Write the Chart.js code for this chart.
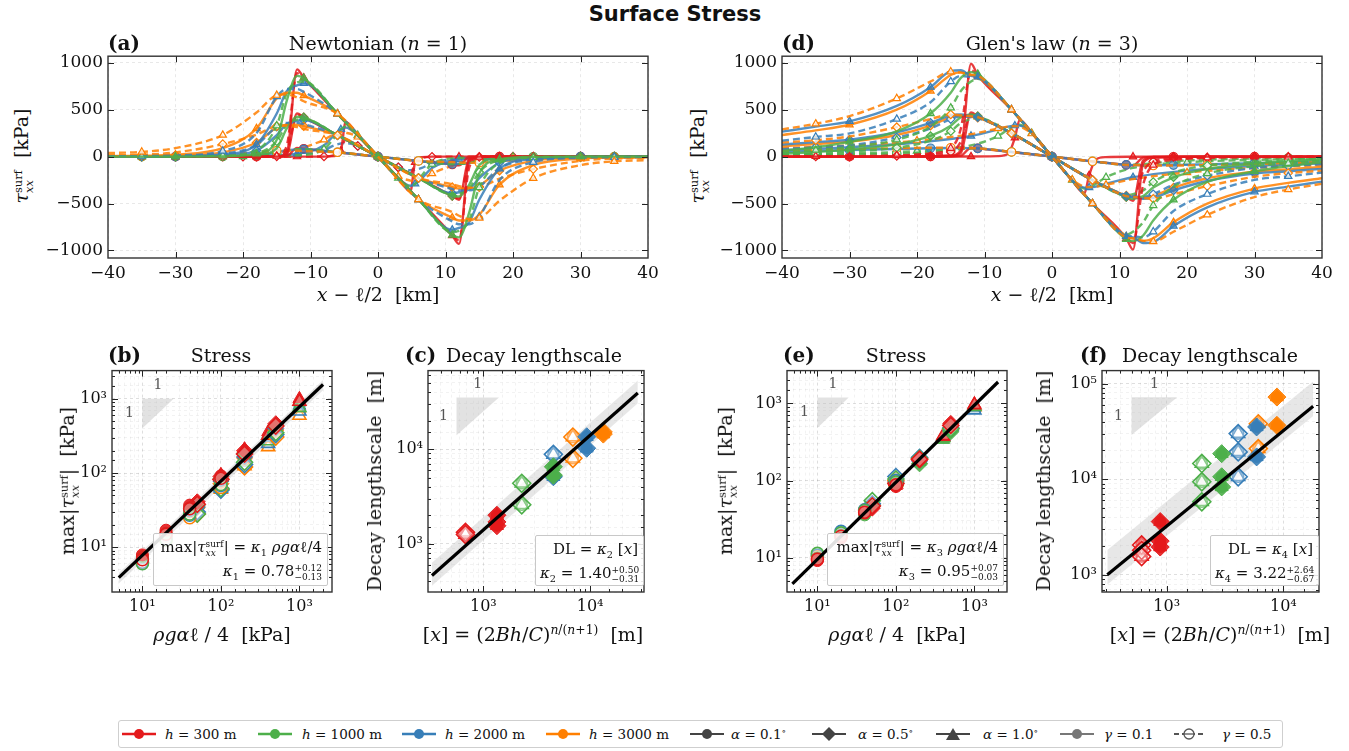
<!DOCTYPE html>
<html>
<head>
<meta charset="utf-8">
<script src="https://cdn.jsdelivr.net/npm/chart.js@4.4.1/dist/chart.umd.min.js"></script>
<style>
  body { margin:0; background:#fff; }
  #fig { position:relative; width:1349px; height:751px; overflow:hidden; font-family:'DejaVu Serif',serif; color:#111; }
  canvas { position:absolute; }
  .t { position:absolute; white-space:nowrap; transform:translate(-50%,-50%); font-size:19px; z-index:5; }
  .tl { position:absolute; white-space:nowrap; transform:translate(0,-50%); font-size:20px; font-weight:bold; z-index:5; }
  .ty { position:absolute; white-space:nowrap; transform:translate(-50%,-50%) rotate(-90deg); font-size:19px; z-index:5; }
  .ss { display:inline-block; vertical-align:-0.4em; font-size:0.6em; line-height:0.95; text-align:left; }
  .ss span { display:block; }
  sub, sup { line-height:0; font-size:0.65em; }
  .box { position:absolute; border:1.5px solid #c8c8c8; background:rgba(255,255,255,0.88); border-radius:2px; text-align:right; font-size:15px; padding:1px 5px 0 4px; box-sizing:border-box; z-index:5; line-height:24px; white-space:nowrap; }
  #legend { position:absolute; left:118px; top:720px; width:1165px; height:28px; border:1px solid #cfcfcf; border-radius:3px; box-sizing:border-box; }
  .lh { position:absolute; top:727px; }
  .lt { position:absolute; top:734px; transform:translate(0,-50%); font-size:13.5px; white-space:nowrap; }
</style>
</head>
<body>
<div id="fig">
  <canvas id="cA"></canvas>
  <canvas id="cD"></canvas>
  <canvas id="cB"></canvas>
  <canvas id="cC"></canvas>
  <canvas id="cE"></canvas>
  <canvas id="cF"></canvas>

  <div class="t" style="left:675px;top:14px;font-family:'DejaVu Sans',sans-serif;font-weight:bold;font-size:21px">Surface Stress</div>

  <div class="tl" style="left:108px;top:43px">(a)</div>
  <div class="t" style="left:378px;top:43px">Newtonian (<i>n</i> = 1)</div>
  <div class="tl" style="left:782px;top:43px">(d)</div>
  <div class="t" style="left:1052px;top:43px">Glen's law (<i>n</i> = 3)</div>

  <div class="ty" style="left:22px;top:156px"><i>τ</i><span class="ss"><span>surf</span><span><i>xx</i></span></span>&nbsp; [kPa]</div>
  <div class="ty" style="left:698px;top:156px"><i>τ</i><span class="ss"><span>surf</span><span><i>xx</i></span></span>&nbsp; [kPa]</div>
  <div class="t" style="left:378px;top:294px"><i>x</i> − ℓ/2 &nbsp;[km]</div>
  <div class="t" style="left:1052px;top:294px"><i>x</i> − ℓ/2 &nbsp;[km]</div>

  <div class="tl" style="left:108px;top:355px">(b)</div>
  <div class="t" style="left:221px;top:355px">Stress</div>
  <div class="tl" style="left:405px;top:355px">(c)</div>
  <div class="t" style="left:534px;top:355px">Decay lengthscale</div>
  <div class="tl" style="left:783px;top:355px">(e)</div>
  <div class="t" style="left:896px;top:355px">Stress</div>
  <div class="tl" style="left:1080px;top:355px">(f)</div>
  <div class="t" style="left:1210px;top:355px">Decay lengthscale</div>

  <div class="ty" style="left:68px;top:481px">max|<i>τ</i><span class="ss"><span>surf</span><span><i>xx</i></span></span>| &nbsp;[kPa]</div>
  <div class="ty" style="left:374px;top:481px">Decay lengthscale &nbsp;[m]</div>
  <div class="ty" style="left:726px;top:481px">max|<i>τ</i><span class="ss"><span>surf</span><span><i>xx</i></span></span>| &nbsp;[kPa]</div>
  <div class="ty" style="left:1043px;top:481px">Decay lengthscale &nbsp;[m]</div>

  <div class="t" style="left:222px;top:634px"><i>ρgα</i>ℓ / 4 &nbsp;[kPa]</div>
  <div class="t" style="left:533px;top:634px">[<i>x</i>] = (2<i>Bh</i>/<i>C</i>)<sup><i>n</i>/(<i>n</i>+1)</sup> &nbsp;[m]</div>
  <div class="t" style="left:897px;top:634px"><i>ρgα</i>ℓ / 4 &nbsp;[kPa]</div>
  <div class="t" style="left:1220px;top:634px">[<i>x</i>] = (2<i>Bh</i>/<i>C</i>)<sup><i>n</i>/(<i>n</i>+1)</sup> &nbsp;[m]</div>

  <div class="box" style="left:153px;top:533px;width:175px;height:53px">max|<i>τ</i><span class="ss"><span>surf</span><span><i>xx</i></span></span>| = <i>κ</i><sub>1</sub> <i>ρgα</i>ℓ/4<br><i>κ</i><sub>1</sub> = 0.78<span class="ss"><span>+0.12</span><span>−0.13</span></span></div>
  <div class="box" style="left:535px;top:535px;width:109px;height:51px">DL = <i>κ</i><sub>2</sub> [<i>x</i>]<br><i>κ</i><sub>2</sub> = 1.40<span class="ss"><span>+0.50</span><span>−0.31</span></span></div>
  <div class="box" style="left:827px;top:533px;width:177px;height:53px">max|<i>τ</i><span class="ss"><span>surf</span><span><i>xx</i></span></span>| = <i>κ</i><sub>3</sub> <i>ρgα</i>ℓ/4<br><i>κ</i><sub>3</sub> = 0.95<span class="ss"><span>+0.07</span><span>−0.03</span></span></div>
  <div class="box" style="left:1210px;top:535px;width:109px;height:51px">DL = <i>κ</i><sub>4</sub> [<i>x</i>]<br><i>κ</i><sub>4</sub> = 3.22<span class="ss"><span>+2.64</span><span>−0.67</span></span></div>

  <div id="legend"></div>
  <svg class="lh" style="left:122px" width="34" height="14"><line x1="0" y1="7" x2="34" y2="7" stroke="#e41a1c" stroke-width="2.5"/><circle cx="17" cy="7" r="5" fill="#e41a1c"/></svg>
  <div class="lt" style="left:165px"><i>h</i> = 300 m</div>
  <svg class="lh" style="left:258px" width="34" height="14"><line x1="0" y1="7" x2="34" y2="7" stroke="#4daf4a" stroke-width="2.5"/><circle cx="17" cy="7" r="5" fill="#4daf4a"/></svg>
  <div class="lt" style="left:302px"><i>h</i> = 1000 m</div>
  <svg class="lh" style="left:402px" width="34" height="14"><line x1="0" y1="7" x2="34" y2="7" stroke="#377eb8" stroke-width="2.5"/><circle cx="17" cy="7" r="5" fill="#377eb8"/></svg>
  <div class="lt" style="left:445px"><i>h</i> = 2000 m</div>
  <svg class="lh" style="left:546px" width="34" height="14"><line x1="0" y1="7" x2="34" y2="7" stroke="#ff7f00" stroke-width="2.5"/><circle cx="17" cy="7" r="5" fill="#ff7f00"/></svg>
  <div class="lt" style="left:589px"><i>h</i> = 3000 m</div>
  <svg class="lh" style="left:690px" width="34" height="14"><line x1="0" y1="7" x2="34" y2="7" stroke="#444" stroke-width="2"/><circle cx="17" cy="7" r="5" fill="#444"/></svg>
  <div class="lt" style="left:731px"><i>α</i> = 0.1<sup>∘</sup></div>
  <svg class="lh" style="left:812px" width="34" height="14"><line x1="0" y1="7" x2="34" y2="7" stroke="#444" stroke-width="2"/><polygon points="17,0 24,7 17,14 10,7" fill="#444"/></svg>
  <div class="lt" style="left:858px"><i>α</i> = 0.5<sup>∘</sup></div>
  <svg class="lh" style="left:936px" width="34" height="14"><line x1="0" y1="7" x2="34" y2="7" stroke="#444" stroke-width="2"/><polygon points="17,1 24,13 10,13" fill="#444"/></svg>
  <div class="lt" style="left:983px"><i>α</i> = 1.0<sup>∘</sup></div>
  <svg class="lh" style="left:1060px" width="34" height="14"><line x1="0" y1="7" x2="34" y2="7" stroke="#777" stroke-width="2"/><circle cx="17" cy="7" r="5" fill="#777"/></svg>
  <div class="lt" style="left:1104px"><i>γ</i> = 0.1</div>
  <svg class="lh" style="left:1174px" width="30" height="14"><line x1="0" y1="7" x2="30" y2="7" stroke="#555" stroke-width="1.8" stroke-dasharray="5,3"/><circle cx="15" cy="7" r="5" fill="#fff" stroke="#555" stroke-width="1.3"/><line x1="10" y1="7" x2="20" y2="7" stroke="#555" stroke-width="1.3"/></svg>
  <div class="lt" style="left:1222px"><i>γ</i> = 0.5</div>
</div>

<script>
// ---- top panels: x grids (km) and tick values ----
const xGridWide = [-40,-35,-30,-23,-18,-15,-13.5,-12,-11,-6,0,6,11,12,13.5,15,18,23,30,35,40];
const xGridShort = [-40,-30,-20,-12,-8,-6.5,-5.5,-4.8,-3,0,3,4.8,5.5,6.5,8,12,20,30,40];
const topXTicks = [-40,-30,-20,-10,0,10,20,30,40];
const topYTicks = [-1000,-500,0,500,1000];

// Newtonian, alpha = 1.0 deg (kPa)
const newt_a1_red_s = [0,0,0,0,0,0,40,930,840,456,0,-456,-840,-930,-40,0,0,0,0,0,0];
const newt_a1_red_d = [0,0,0,0,0,5,120,890,836,456,0,-456,-836,-890,-120,-5,0,0,0,0,0];
const newt_a1_grn_s = [0,0,0,3,30,180,600,860,836,456,0,-456,-836,-860,-600,-180,-30,-3,0,0,0];
const newt_a1_grn_d = [0,0,2,10,70,330,680,790,800,456,0,-456,-800,-790,-680,-330,-70,-10,-2,0,0];
const newt_a1_blu_s = [0,1,4,25,130,460,700,760,780,456,0,-456,-780,-760,-700,-460,-130,-25,-4,-1,0];
const newt_a1_blu_d = [3,6,12,60,250,640,720,720,690,456,0,-456,-690,-720,-720,-640,-250,-60,-12,-6,-3];
const newt_a1_org_s = [5,9,20,90,300,620,680,680,650,456,0,-456,-650,-680,-680,-620,-300,-90,-20,-9,-5];
const newt_a1_org_d = [38,50,91,230,470,655,665,630,590,456,0,-456,-590,-630,-665,-655,-470,-230,-91,-50,-38];
// Newtonian, alpha = 0.5 deg
const newt_a5_red_s = [0,0,0,0,0,0,20,460,420,228,0,-228,-420,-460,-20,0,0,0,0,0,0];
const newt_a5_red_d = [0,0,0,0,0,3,60,445,418,228,0,-228,-418,-445,-60,-3,0,0,0,0,0];
const newt_a5_grn_s = [0,0,0,2,15,90,300,425,418,228,0,-228,-418,-425,-300,-90,-15,-2,0,0,0];
const newt_a5_grn_d = [0,0,1,5,35,165,340,395,400,228,0,-228,-400,-395,-340,-165,-35,-5,-1,0,0];
const newt_a5_blu_s = [0,0,2,12,65,230,350,380,390,228,0,-228,-390,-380,-350,-230,-65,-12,-2,0,0];
const newt_a5_blu_d = [2,3,6,30,125,320,360,360,345,228,0,-228,-345,-360,-360,-320,-125,-30,-6,-3,-2];
const newt_a5_org_s = [3,5,10,45,150,310,340,340,325,228,0,-228,-325,-340,-340,-310,-150,-45,-10,-5,-3];
const newt_a5_org_d = [14,20,45,133,235,325,330,315,295,228,0,-228,-295,-315,-330,-325,-235,-133,-45,-20,-14];
// Newtonian, alpha = 0.1 deg
const newt_a01_red_s = [0,0,0,0,0,0,4,93,84,46,0,-46,-84,-93,-4,0,0,0,0,0,0];
const newt_a01_grn_d = [0,0,0,1,7,33,68,79,80,46,0,-46,-80,-79,-68,-33,-7,-1,0,0,0];
const newt_a01_blu_s = [0,0,0,2,13,46,70,76,78,46,0,-46,-78,-76,-70,-46,-13,-2,0,0,0];
const newt_a01_org_d = [3,4,9,27,47,65,66,63,59,46,0,-46,-59,-63,-66,-65,-47,-27,-9,-4,-3];
// Newtonian, shorter lake
const newt_s1_red_s = [0,0,0,0,0,5,60,370,228,0,-228,-370,-60,-5,0,0,0,0,0];
const newt_s1_grn_d = [0,0,2,15,80,200,290,320,228,0,-228,-320,-290,-200,-80,-15,-2,0,0];
const newt_s1_blu_s = [0,1,5,30,120,230,290,310,228,0,-228,-310,-290,-230,-120,-30,-5,-1,0];
const newt_s1_org_d = [4,10,25,80,180,240,260,255,210,0,-210,-255,-260,-240,-180,-80,-25,-10,-4];
const newt_s5_red_d = [0,0,0,0,2,15,80,180,114,0,-114,-180,-80,-15,-2,0,0,0,0];
const newt_s5_blu_d = [0,1,4,20,70,120,140,145,114,0,-114,-145,-140,-120,-70,-20,-4,-1,0];

// Glen's law, alpha = 1.0 deg
const glen_a1_red_s = [0,0,0,0,3,12,70,990,870,500,0,-500,-870,-990,-70,-12,-3,0,0,0,0];
const glen_a1_red_d = [2,3,5,12,35,90,300,920,860,500,0,-500,-860,-920,-300,-90,-35,-12,-5,-3,-2];
const glen_a1_grn_s = [60,100,157,270,460,680,840,900,880,500,0,-500,-880,-900,-840,-680,-460,-270,-157,-100,-60];
const glen_a1_grn_d = [40,70,102,180,320,520,700,800,830,500,0,-500,-830,-800,-700,-520,-320,-180,-102,-70,-40];
const glen_a1_blu_s = [266,320,376,540,740,910,920,860,850,500,0,-500,-850,-860,-920,-910,-740,-540,-376,-320,-266];
const glen_a1_blu_d = [170,210,248,400,580,800,860,850,840,500,0,-500,-840,-850,-860,-800,-580,-400,-248,-210,-170];
const glen_a1_org_s = [230,280,340,500,700,870,900,870,850,500,0,-500,-850,-870,-900,-870,-700,-500,-340,-280,-230];
const glen_a1_org_d = [290,350,431,620,800,905,895,870,860,500,0,-500,-860,-870,-895,-905,-800,-620,-431,-350,-290];
// Glen's law, alpha = 0.5 deg
const glen_a5_red_s = [0,0,0,1,3,8,40,470,430,250,0,-250,-430,-470,-40,-8,-3,-1,0,0,0];
const glen_a5_red_d = [1,2,4,8,20,50,160,450,430,250,0,-250,-430,-450,-160,-50,-20,-8,-4,-2,-1];
const glen_a5_grn_s = [30,50,75,130,220,330,420,450,430,250,0,-250,-430,-450,-420,-330,-220,-130,-75,-50,-30];
const glen_a5_grn_d = [20,35,55,95,170,270,360,400,410,250,0,-250,-410,-400,-360,-270,-170,-95,-55,-35,-20];
const glen_a5_blu_s = [130,155,180,260,360,440,450,430,420,250,0,-250,-420,-430,-450,-440,-360,-260,-180,-155,-130];
const glen_a5_blu_d = [80,100,120,204,300,400,430,420,410,250,0,-250,-410,-420,-430,-400,-300,-204,-120,-100,-80];
const glen_a5_org_s = [110,135,160,230,330,420,440,425,415,250,0,-250,-415,-425,-440,-420,-330,-230,-160,-135,-110];
const glen_a5_org_d = [150,175,215,314,400,449,440,430,420,250,0,-250,-420,-430,-440,-449,-400,-314,-215,-175,-150];
// Glen's law, alpha = 0.1 deg
const glen_a01_red_s = [0,0,0,0,1,2,10,95,88,50,0,-50,-88,-95,-10,-2,-1,0,0,0,0];
const glen_a01_grn_d = [10,14,20,32,50,70,82,85,85,50,0,-50,-85,-85,-82,-70,-50,-32,-20,-14,-10];
const glen_a01_blu_s = [50,60,70,82,90,92,92,90,88,50,0,-50,-88,-90,-92,-92,-90,-82,-70,-60,-50];
const glen_a01_org_d = [60,68,80,90,95,95,93,90,88,50,0,-50,-88,-90,-93,-95,-95,-90,-80,-68,-60];
// Glen's law, shorter lake
const glen_s1_red_s = [0,0,0,1,5,30,200,390,255,0,-255,-390,-200,-30,-5,-1,0,0,0];
const glen_s1_grn_d = [20,35,60,120,220,290,330,340,250,0,-250,-340,-330,-290,-220,-120,-60,-35,-20];
const glen_s1_blu_s = [70,100,150,220,290,320,330,330,250,0,-250,-330,-330,-320,-290,-220,-150,-100,-70];
const glen_s1_org_d = [90,120,170,240,300,320,325,320,245,0,-245,-320,-325,-320,-300,-240,-170,-120,-90];

// ---- bottom panels ----
const xAlpha01 = [10,20,40,100];
const xAlpha05 = [50,100,200,500];
const xAlpha10 = [100,200,400,1000];

// (b) max stress, Newtonian. suffix 1 = gamma 0.1 (filled), 5 = gamma 0.5 (open)
const b_cir_r1 = [7.9,17,37,92],  b_cir_r5 = [6.8,15,33,85];
const b_cir_g1 = [7.5,15.5,34,88], b_cir_g5 = [6.0,12.5,28,70];
const b_cir_b1 = [7.2,14.5,31,80], b_cir_b5 = [6.3,13,27,68];
const b_cir_o1 = [7.0,14,30,75],  b_cir_o5 = [6.2,12.5,25,64];
const b_dia_r1 = [41,90,200,462], b_dia_r5 = [38,82,180,430];
const b_dia_g1 = [37,84,185,440], b_dia_g5 = [28,62,140,350];
const b_dia_b1 = [35,78,165,400], b_dia_b5 = [30,59,130,330];
const b_dia_o1 = [34,72,160,380], b_dia_o5 = [28,60,121,306];
const b_tri_r1 = [95,210,357,1000], b_tri_r5 = [88,190,320,920];
const b_tri_g1 = [85,185,330,900],  b_tri_g5 = [68,145,270,760];
const b_tri_b1 = [80,170,300,813],  b_tri_b5 = [62,140,249,680];
const b_tri_o1 = [76,160,290,734],  b_tri_o5 = [60,125,225,597];

// (e) max stress, Glen's law
const e_cir_r1 = [9.2,18,38,84],  e_cir_r5 = [9.6,19,39,88];
const e_cir_g1 = [10,19.5,36,92], e_cir_g5 = [11.4,21,41,96];
const e_cir_b1 = [9.8,20,40,95],  e_cir_b5 = [10.8,22,42,100];
const e_cir_o1 = [9.7,19,42,93],  e_cir_o5 = [10.5,20.5,40,98];
const e_dia_r1 = [44,88,185,552], e_dia_r5 = [47,92,190,520];
const e_dia_g1 = [46,94,165,430], e_dia_g5 = [55,105,195,470];
const e_dia_b1 = [47,98,180,450], e_dia_b5 = [50,113,200,480];
const e_dia_o1 = [46,96,199,453], e_dia_o5 = [48,100,190,470];
const e_tri_r1 = [86,185,370,980], e_tri_r5 = [90,190,380,960];
const e_tri_g1 = [92,175,340,900], e_tri_g5 = [96,190,360,920];
const e_tri_b1 = [94,185,354,870], e_tri_b5 = [98,195,370,820];
const e_tri_o1 = [93,195,380,951], e_tri_o5 = [95,190,365,900];

// (c) decay lengthscale, Newtonian (m)
const c_r5_x = [680,680],       c_r5_y = [1320,1250];
const c_r1_x = [1340,1340,1340], c_r1_y = [2000,1700,1550];
const c_g5_x = [2290,2290],     c_g5_y = [4350,2580];
const c_g1_x = [4530,4530],     c_g1_y = [6500,5300];
const c_b5_x = [4530],          c_b5_y = [8800];
const c_b1_x = [4530,9300,9300], c_b1_y = [5100,13500,10200];
const c_o5_x = [6900,6900],     c_o5_y = [13400,8000];
const c_o1_x = [13300,13300],   c_o1_y = [15200,14400];

// (f) decay lengthscale, Glen's law (m)
const f_r5_x = [610,610,610],    f_r5_y = [2050,1800,1550];
const f_r1_x = [880,880,880],    f_r1_y = [3600,2250,1950];
const f_g5_x = [2000,2000,2000], f_g5_y = [14600,9400,5800];
const f_g1_x = [2960,2960,2960], f_g1_y = [18500,10600,8300];
const f_b5_x = [4100,4100,4100], f_b5_y = [30000,19300,10600];
const f_b1_x = [5900,5900],      f_b1_y = [35200,17100];
const f_o5_x = [6100,6100],      f_o5_y = [38000,20900];
const f_o1_x = [8800,8800],      f_o1_y = [72300,36600];

// fit lines and uncertainty bands (end points)
const b_fitX = [5,2000],    b_fitY = [3.9,1560],  b_bandLo = [3.25,1300], b_bandHi = [4.5,1800];
const c_fitX = [330,28000], c_fitY = [462,39200], c_bandLo = [360,30500], c_bandHi = [630,53200];
const e_fitX = [4.8,2000],  e_fitY = [4.6,1900],  e_bandLo = [4.4,1840],  e_bandHi = [4.9,2040];
const f_fitX = [310,18000], f_fitY = [1000,58000], f_bandLo = [790,45900], f_bandHi = [1815,105500];

// 1:1 slope triangles
const b_triX = [10,25,10,10],       b_triY = [1000,1000,400,1000];
const c_triX = [560,1400,560,560],  c_triY = [35000,35000,14000,35000];
const e_triX = [10,25,10,10],       e_triY = [1200,1200,480,1200];
const f_triX = [500,1230,500,500],  f_triY = [72000,72000,29000,72000];

const markWideSolid = [-30,-18,-11,0,11,18,30];
const markWideDash = [-35,-23,-15,-6,6,15,23,35];
const markShortSolid = [-30,-12,-5.5,5.5,12,30];
const markShortDash = [-20,-8,-3,3,8,20];

const COL = {r:'#e41a1c', g:'#4daf4a', b:'#377eb8', o:'#ff7f00'};
const serif = "'DejaVu Serif',serif";
const SUP = ['⁰','¹','²','³','⁴','⁵','⁶'];
const PL = 70, PR = 16, PT = 14, PB = 36;

function rgba(hex, a) {
    const n = parseInt(hex.slice(1), 16);
    return `rgba(${n >> 16},${(n >> 8) & 255},${n & 255},${a})`;
}
function isPow10(v) {
    const l = Math.log10(v);
    return Math.abs(l - Math.round(l)) < 1e-6;
}
function pts(xs, ys) {
    return xs.map((x, i) => ({x: x, y: ys[i]}));
}

function lineSets(list) {
    return list.map(([ys, c, dashed, shape, gx]) => {
        let marks;
        if (gx === xGridWide) marks = dashed ? markWideDash : markWideSolid;
        else marks = dashed ? markShortDash : markShortSolid;
        return {
            data: pts(gx, ys),
            borderColor: rgba(COL[c], 0.85),
            borderWidth: 2.4,
            borderDash: dashed ? [7, 4] : [],
            cubicInterpolationMode: 'monotone',
            fill: false,
            pointStyle: shape,
            pointRadius: gx.map(x => marks.includes(x) ? 4.2 : 0),
            pointBackgroundColor: dashed ? 'rgba(255,255,255,0.75)' : rgba(COL[c], 0.55),
            pointBorderColor: COL[c],
            pointBorderWidth: 1.2
        };
    });
}

function markSet(xs, ys, c, shape, filled, r) {
    return {
        data: pts(xs, ys),
        showLine: false,
        pointStyle: shape,
        pointRadius: r,
        pointBackgroundColor: filled ? rgba(COL[c], 0.9) : 'rgba(255,255,255,0.35)',
        pointBorderColor: COL[c],
        pointBorderWidth: filled ? 1 : 1.6
    };
}

function fitSets(fx, fy, lo, hi, tx, ty) {
    return {
        top: [{data: pts(fx, fy), borderColor: '#000', borderWidth: 3.2, pointRadius: 0}],
        bottom: [
            {data: pts(fx, hi), borderWidth: 0, pointRadius: 0, fill: '+1', backgroundColor: 'rgba(185,185,185,0.35)'},
            {data: pts(fx, lo), borderWidth: 0, pointRadius: 0},
            {data: pts(tx, ty), borderWidth: 0, pointRadius: 0, fill: 'shape', backgroundColor: 'rgba(190,190,190,0.45)'}
        ]
    };
}

// inward ticks on all four sides plus the frame
const frameTicks = {
    id: 'frameTicks',
    afterDraw(chart) {
        const ctx = chart.ctx, a = chart.chartArea;
        const sx = chart.scales.x, sy = chart.scales.y;
        const len = (s, v) => s.type === 'logarithmic' ? (isPow10(v) ? 6 : 3) : 6;
        ctx.save();
        ctx.strokeStyle = '#222';
        ctx.lineWidth = 1;
        ctx.beginPath();
        sx.ticks.forEach(t => {
            const p = Math.round(sx.getPixelForValue(t.value)) + 0.5;
            if (p < a.left + 1 || p > a.right - 1) return;
            const l = len(sx, t.value);
            ctx.moveTo(p, a.bottom); ctx.lineTo(p, a.bottom - l);
            ctx.moveTo(p, a.top); ctx.lineTo(p, a.top + l);
        });
        sy.ticks.forEach(t => {
            const p = Math.round(sy.getPixelForValue(t.value)) + 0.5;
            if (p < a.top + 1 || p > a.bottom - 1) return;
            const l = len(sy, t.value);
            ctx.moveTo(a.left, p); ctx.lineTo(a.left + l, p);
            ctx.moveTo(a.right, p); ctx.lineTo(a.right - l, p);
        });
        ctx.stroke();
        ctx.lineWidth = 1.4;
        ctx.strokeStyle = '#333';
        ctx.strokeRect(a.left, a.top, a.right - a.left, a.bottom - a.top);
        ctx.restore();
    }
};

function slopeLabel(tx, ty) {
    return {
        id: 'slopeLabel',
        afterDatasetsDraw(chart) {
            const ctx = chart.ctx, sx = chart.scales.x, sy = chart.scales.y;
            const x0 = sx.getPixelForValue(tx[0]), x1 = sx.getPixelForValue(tx[1]);
            const y0 = sy.getPixelForValue(ty[0]), y1 = sy.getPixelForValue(ty[2]);
            ctx.save();
            ctx.fillStyle = '#555';
            ctx.font = '14px ' + serif;
            ctx.textAlign = 'center';
            ctx.textBaseline = 'middle';
            ctx.fillText('1', (x0 + x1) / 2, y0 - 13);
            ctx.fillText('1', x0 - 13, (y0 + y1) / 2);
            ctx.restore();
        }
    };
}

const tickFont = {family: serif, size: 17};
const logTickFont = {family: serif, size: 16};
const linLabel = v => (v < 0 ? '−' : '') + Math.abs(v);
const logLabel = v => isPow10(v) ? '10' + SUP[Math.round(Math.log10(v))] : '';

function linAxis(min, max, tickVals) {
    return {
        type: 'linear', min: min, max: max,
        afterBuildTicks: s => { s.ticks = tickVals.map(v => ({value: v})); },
        ticks: {font: tickFont, color: '#111', callback: linLabel, maxRotation: 0, autoSkip: false, padding: 5},
        grid: {color: 'rgba(0,0,0,0.09)', drawTicks: false},
        border: {display: false, dash: [3, 3]}
    };
}
function logAxis(min, max) {
    return {
        type: 'logarithmic', min: min, max: max,
        ticks: {autoSkip: false, font: logTickFont, color: '#111', callback: logLabel, maxRotation: 0, minRotation: 0, padding: 5},
        grid: {color: c => isPow10(c.tick.value) ? 'rgba(0,0,0,0.13)' : 'rgba(0,0,0,0.05)', drawTicks: false},
        border: {display: false, dash: [3, 3]}
    };
}

function makeChart(id, box, xOpt, yOpt, datasets, extra) {
    const cv = document.getElementById(id);
    const W = box.r - box.l + PL + PR, H = box.b - box.t + PT + PB;
    cv.style.left = (box.l - PL) + 'px';
    cv.style.top = (box.t - PT) + 'px';
    cv.width = W; cv.height = H;
    cv.style.width = W + 'px'; cv.style.height = H + 'px';
    xOpt.afterFit = s => { s.height = PB; };
    yOpt.afterFit = s => { s.width = PL; };
    return new Chart(cv, {
        type: 'line',
        data: {datasets: datasets},
        options: {
            responsive: false, animation: false, events: [],
            layout: {padding: {top: PT, right: PR, left: 0, bottom: 0}},
            plugins: {legend: {display: false}, tooltip: {enabled: false}},
            scales: {x: xOpt, y: yOpt}
        },
        plugins: [frameTicks].concat(extra || [])
    });
}

// ---- top panels ----
const W_ = xGridWide, S_ = xGridShort;
const newtCurves = [
    [newt_a1_org_d,'o',1,'triangle',W_], [newt_a1_grn_s,'g',0,'triangle',W_], [newt_a1_blu_d,'b',1,'triangle',W_],
    [newt_a1_org_s,'o',0,'triangle',W_], [newt_a1_grn_d,'g',1,'triangle',W_], [newt_a1_blu_s,'b',0,'triangle',W_],
    [newt_a1_red_s,'r',0,'triangle',W_], [newt_a1_red_d,'r',1,'triangle',W_],
    [newt_a5_org_d,'o',1,'rectRot',W_], [newt_a5_grn_s,'g',0,'rectRot',W_], [newt_a5_blu_d,'b',1,'rectRot',W_],
    [newt_a5_org_s,'o',0,'rectRot',W_], [newt_a5_grn_d,'g',1,'rectRot',W_], [newt_a5_blu_s,'b',0,'rectRot',W_],
    [newt_a5_red_s,'r',0,'rectRot',W_], [newt_a5_red_d,'r',1,'rectRot',W_],
    [newt_a01_org_d,'o',1,'circle',W_], [newt_a01_grn_d,'g',1,'circle',W_], [newt_a01_blu_s,'b',0,'circle',W_],
    [newt_a01_red_s,'r',0,'circle',W_],
    [newt_s1_org_d,'o',1,'triangle',S_], [newt_s1_grn_d,'g',1,'triangle',S_], [newt_s1_blu_s,'b',0,'triangle',S_],
    [newt_s1_red_s,'r',0,'triangle',S_], [newt_s5_red_d,'r',1,'rectRot',S_], [newt_s5_blu_d,'b',1,'rectRot',S_]
];
const glenCurves = [
    [glen_a1_org_d,'o',1,'triangle',W_], [glen_a1_blu_s,'b',0,'triangle',W_], [glen_a1_grn_s,'g',0,'triangle',W_],
    [glen_a1_blu_d,'b',1,'triangle',W_], [glen_a1_org_s,'o',0,'triangle',W_], [glen_a1_grn_d,'g',1,'triangle',W_],
    [glen_a1_red_s,'r',0,'triangle',W_], [glen_a1_red_d,'r',1,'triangle',W_],
    [glen_a5_org_d,'o',1,'rectRot',W_], [glen_a5_blu_s,'b',0,'rectRot',W_], [glen_a5_grn_s,'g',0,'rectRot',W_],
    [glen_a5_blu_d,'b',1,'rectRot',W_], [glen_a5_org_s,'o',0,'rectRot',W_], [glen_a5_grn_d,'g',1,'rectRot',W_],
    [glen_a5_red_s,'r',0,'rectRot',W_], [glen_a5_red_d,'r',1,'rectRot',W_],
    [glen_a01_org_d,'o',1,'circle',W_], [glen_a01_blu_s,'b',0,'circle',W_], [glen_a01_grn_d,'g',1,'circle',W_],
    [glen_a01_red_s,'r',0,'circle',W_],
    [glen_s1_org_d,'o',1,'triangle',S_], [glen_s1_blu_s,'b',0,'triangle',S_], [glen_s1_grn_d,'g',1,'triangle',S_],
    [glen_s1_red_s,'r',0,'triangle',S_]
];

makeChart('cA', {l:108, r:648, t:55, b:258}, linAxis(-40, 40, topXTicks), linAxis(-1080, 1070, topYTicks), lineSets(newtCurves));
makeChart('cD', {l:782, r:1322, t:55, b:258}, linAxis(-40, 40, topXTicks), linAxis(-1080, 1070, topYTicks), lineSets(glenCurves));

// ---- bottom panels ----
function stressMarks(p) {
    const out = [];
    [['cir','circle',6,xAlpha01], ['dia','rectRot',8,xAlpha05], ['tri','triangle',7.5,xAlpha10]].forEach(([k, shape, r, xs]) => {
        ['r','g','b','o'].forEach(c => {
            out.push(markSet(xs, p[k + '_' + c + '5'], c, shape, false, r));
            out.push(markSet(xs, p[k + '_' + c + '1'], c, shape, true, r));
        });
    });
    return out;
}
function decayMarks(list) {
    const out = [];
    list.forEach(([xs, ys, c, filled]) => {
        out.push(markSet(xs, ys, c, 'rectRot', filled, 9));
        out.push(markSet(xs, ys, c, 'triangle', filled, 7.5));
        out.push(markSet(xs, ys, c, 'circle', filled, 5.5));
    });
    return out;
}

const bSeries = {cir_r1:b_cir_r1, cir_r5:b_cir_r5, cir_g1:b_cir_g1, cir_g5:b_cir_g5, cir_b1:b_cir_b1, cir_b5:b_cir_b5, cir_o1:b_cir_o1, cir_o5:b_cir_o5,
    dia_r1:b_dia_r1, dia_r5:b_dia_r5, dia_g1:b_dia_g1, dia_g5:b_dia_g5, dia_b1:b_dia_b1, dia_b5:b_dia_b5, dia_o1:b_dia_o1, dia_o5:b_dia_o5,
    tri_r1:b_tri_r1, tri_r5:b_tri_r5, tri_g1:b_tri_g1, tri_g5:b_tri_g5, tri_b1:b_tri_b1, tri_b5:b_tri_b5, tri_o1:b_tri_o1, tri_o5:b_tri_o5};
const eSeries = {cir_r1:e_cir_r1, cir_r5:e_cir_r5, cir_g1:e_cir_g1, cir_g5:e_cir_g5, cir_b1:e_cir_b1, cir_b5:e_cir_b5, cir_o1:e_cir_o1, cir_o5:e_cir_o5,
    dia_r1:e_dia_r1, dia_r5:e_dia_r5, dia_g1:e_dia_g1, dia_g5:e_dia_g5, dia_b1:e_dia_b1, dia_b5:e_dia_b5, dia_o1:e_dia_o1, dia_o5:e_dia_o5,
    tri_r1:e_tri_r1, tri_r5:e_tri_r5, tri_g1:e_tri_g1, tri_g5:e_tri_g5, tri_b1:e_tri_b1, tri_b5:e_tri_b5, tri_o1:e_tri_o1, tri_o5:e_tri_o5};

const fb = fitSets(b_fitX, b_fitY, b_bandLo, b_bandHi, b_triX, b_triY);
makeChart('cB', {l:112, r:332, t:370, b:592}, logAxis(4.1, 2600), logAxis(2.5, 2400),
    fb.top.concat(stressMarks(bSeries), fb.bottom), [slopeLabel(b_triX, b_triY)]);

const fe = fitSets(e_fitX, e_fitY, e_bandLo, e_bandHi, e_triX, e_triY);
makeChart('cE', {l:787, r:1007, t:370, b:592}, logAxis(4.1, 2600), logAxis(3.6, 2670),
    fe.top.concat(stressMarks(eSeries), fe.bottom), [slopeLabel(e_triX, e_triY)]);

const fc = fitSets(c_fitX, c_fitY, c_bandLo, c_bandHi, c_triX, c_triY);
makeChart('cC', {l:428, r:644, t:370, b:592}, logAxis(303, 32000), logAxis(309, 67500),
    fc.top.concat(decayMarks([
        [c_r5_x, c_r5_y, 'r', false], [c_r1_x, c_r1_y, 'r', true],
        [c_g5_x, c_g5_y, 'g', false], [c_g1_x, c_g1_y, 'g', true],
        [c_b5_x, c_b5_y, 'b', false], [c_b1_x, c_b1_y, 'b', true],
        [c_o5_x, c_o5_y, 'o', false], [c_o1_x, c_o1_y, 'o', true]
    ]), fc.bottom), [slopeLabel(c_triX, c_triY)]);

const ff = fitSets(f_fitX, f_fitY, f_bandLo, f_bandHi, f_triX, f_triY);
makeChart('cF', {l:1102, r:1319, t:370, b:592}, logAxis(279, 20200), logAxis(660, 136800),
    ff.top.concat(decayMarks([
        [f_r5_x, f_r5_y, 'r', false], [f_r1_x, f_r1_y, 'r', true],
        [f_g5_x, f_g5_y, 'g', false], [f_g1_x, f_g1_y, 'g', true],
        [f_b5_x, f_b5_y, 'b', false], [f_b1_x, f_b1_y, 'b', true],
        [f_o5_x, f_o5_y, 'o', false], [f_o1_x, f_o1_y, 'o', true]
    ]), ff.bottom), [slopeLabel(f_triX, f_triY)]);
</script>
</body>
</html>
